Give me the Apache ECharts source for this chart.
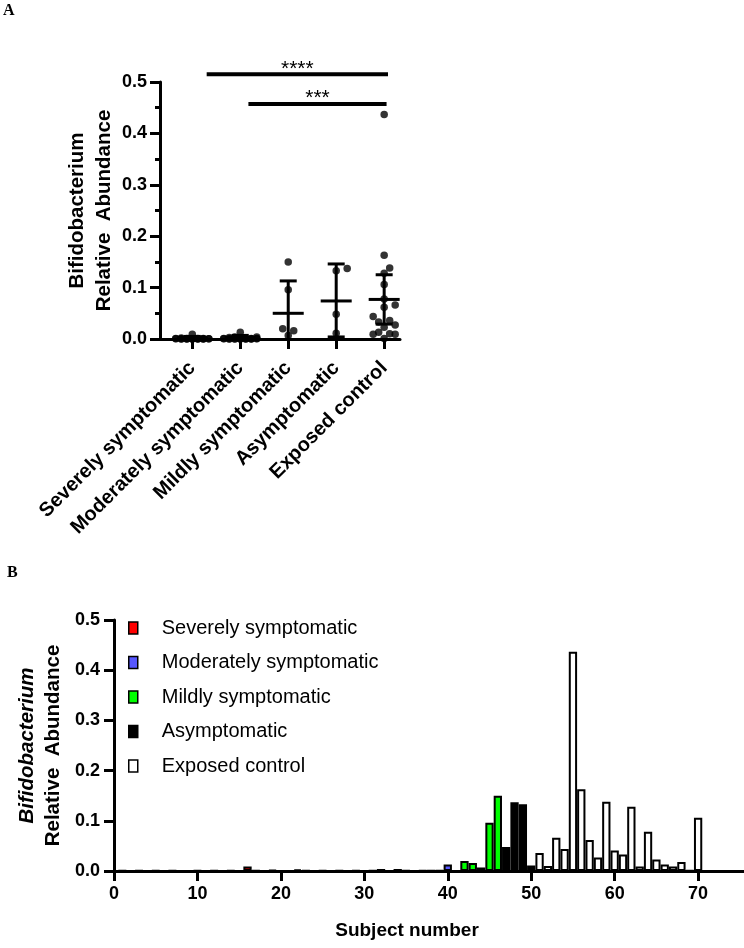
<!DOCTYPE html>
<html><head><meta charset="utf-8">
<script src="https://cdn.jsdelivr.net/npm/echarts@6/dist/echarts.min.js"></script>
<style>html,body{margin:0;padding:0;background:#fff}#c{width:744px;height:948px}</style>
</head><body><div id="c"></div>
<script>
// ---------- data ----------
const categories = ['Severely symptomatic', 'Moderately symptomatic', 'Mildly symptomatic', 'Asymptomatic', 'Exposed control'];
const groupColors = ['#ff0000', '#5757ff', '#00ff00', '#000000', '#ffffff'];

const severeSubjects = [1,2,3,4,5,6,7,8,9,10,11,12,13,14,15,16,17,18,19,20];
const severeAbundance = [0.0005,0,0.0008,0.0003,0.001,0,0.0006,0.0004,0,0.0009,0.0003,0.0006,0,0.001,0.0004,0.009,0.0005,0,0.002,0.0003];

const moderateSubjects = [21,22,23,24,25,26,27,28,29,30,31,32,33,34,35,36,37,38,39,40,41];
const moderateAbundance = [0.0004,0.003,0.0006,0,0.001,0.0003,0.0007,0,0.0009,0.0004,0.0006,0.004,0.0002,0.004,0.001,0,0.0008,0.0005,0.001,0.013,0];

const mildSubjects = [42,43,44,45,46];
const mildAbundance = [0.020,0.016,0.007,0.096,0.150];

const asymSubjects = [47,48,49,50];
const asymAbundance = [0.048,0.137,0.133,0.011];

const controlSubjects = [51,52,53,54,55,56,57,58,59,60,61,62,63,64,65,66,67,68,69,70];
const controlAbundance = [0.036,0.010,0.066,0.044,0.437,0.163,0.062,0.027,0.138,0.041,0.033,0.128,0.009,0.078,0.023,0.013,0.009,0.018,0.001,0.106];

// mean line and error-bar ends as drawn in panel A
const groupCenter = [0.002, 0.003, 0.050, 0.074, 0.077];
const groupUpper  = [0.005, 0.007, 0.113, 0.146, 0.125];
const groupLower  = [0.000, 0.000, -0.013, 0.004, 0.029];

// significance comparisons (panel A)
const compLabels = ['****', '***'];
const compFrom   = [0.3, 1.17];
const compTo     = [4.08, 4.05];
const compLevel  = [0.515, 0.457];

const abundanceTicks = [0, 0.1, 0.2, 0.3, 0.4, 0.5];
const subjectTicks = [0, 10, 20, 30, 40, 50, 60, 70];
const groupTicks = [0, 1, 2, 3, 4];

const groupSubjects = [severeSubjects, moderateSubjects, mildSubjects, asymSubjects, controlSubjects];
const groupValues = [severeAbundance, moderateAbundance, mildAbundance, asymAbundance, controlAbundance];

// ---------- chart ----------
const FONT = '"Liberation Sans", Arial, sans-serif';
const chart = echarts.init(document.getElementById('c'), null, {renderer: 'canvas'});

const axisLineStyle = {color: '#000', width: 3};

const option = {
  animation: false,
  backgroundColor: '#fff',
  textStyle: {fontFamily: FONT, color: '#000'},
  graphic: [
    {type: 'text', left: 3, top: 3, style: {text: 'A', font: 'bold 16px "Liberation Serif", serif', fill: '#000'}},
    {type: 'text', left: 7, top: 565, style: {text: 'B', font: 'bold 16px "Liberation Serif", serif', fill: '#000'}}
  ],
  legend: {
    data: categories,
    orient: 'vertical',
    left: 128, top: 618,
    padding: 0,
    itemWidth: 9, itemHeight: 12, itemGap: 14.5,
    icon: 'rect',
    selectedMode: false,
    itemStyle: {borderColor: '#000', borderWidth: 1.5},
    textStyle: {fontFamily: FONT, fontSize: 20, color: '#000', padding: [0, 0, 0, 19]}
  },
  grid: [
    {left: 160, top: 82, width: 240, height: 257},
    {left: 114, top: 620, right: 0, height: 251}
  ],
  xAxis: [
    {
      gridIndex: 0, type: 'value', min: -0.673, max: 4.33,
      axisLine: {show: true, onZero: false, lineStyle: axisLineStyle},
      axisTick: {show: true, customValues: groupTicks, length: 10, lineStyle: {color: '#000', width: 3}},
      axisLabel: {customValues: groupTicks, formatter: v => categories[Math.round(v)], rotate: 45, margin: 26,
        fontFamily: FONT, fontSize: 20, fontWeight: 'bold', color: '#000'},
      splitLine: {show: false}
    },
    {
      gridIndex: 1, type: 'value', min: 0, max: 75.5,
      axisLine: {show: true, onZero: false, lineStyle: axisLineStyle},
      axisTick: {show: true, customValues: subjectTicks, length: 10, lineStyle: {color: '#000', width: 3}},
      axisLabel: {customValues: subjectTicks, margin: 14, fontFamily: FONT, fontSize: 18, fontWeight: 'bold', color: '#000'},
      splitLine: {show: false},
      name: 'Subject number', nameLocation: 'middle', nameGap: 50,
      nameTextStyle: {fontFamily: FONT, fontSize: 19, fontWeight: 'bold', color: '#000', padding: [0, 44, 0, 0]}
    }
  ],
  yAxis: [
    {
      gridIndex: 0, type: 'value', min: 0, max: 0.5, interval: 0.1,
      axisLine: {show: true, onZero: false, lineStyle: axisLineStyle},
      axisTick: {show: true, length: 10, lineStyle: {color: '#000', width: 3}},
      minorTick: {show: true, splitNumber: 2, length: 5, lineStyle: {color: '#000', width: 3}},
      axisLabel: {customValues: abundanceTicks, formatter: v => v.toFixed(1), margin: 13, fontFamily: FONT, fontSize: 18, fontWeight: 'bold', color: '#000'},
      splitLine: {show: false}, minorSplitLine: {show: false},
      name: '{b|Bifidobacterium}\n{b|Relative  Abundance}', nameLocation: 'middle', nameGap: 42, nameRotate: 90,
      nameTextStyle: {rich: {b: {fontFamily: FONT, fontSize: 20.5, fontWeight: 'bold', color: '#000', lineHeight: 27}}}
    },
    {
      gridIndex: 1, type: 'value', min: 0, max: 0.5, interval: 0.1,
      axisLine: {show: true, onZero: false, lineStyle: axisLineStyle},
      axisTick: {show: true, length: 10, lineStyle: {color: '#000', width: 3}},
      axisLabel: {formatter: v => v.toFixed(1), margin: 14, fontFamily: FONT, fontSize: 18, fontWeight: 'bold', color: '#000'},
      splitLine: {show: false},
      name: '{i|Bifidobacterium}\n{b|Relative  Abundance}', nameLocation: 'middle', nameGap: 41, nameRotate: 90,
      nameTextStyle: {rich: {
        i: {fontFamily: FONT, fontSize: 20.5, fontWeight: 'bold', fontStyle: 'italic', color: '#000', lineHeight: 26},
        b: {fontFamily: FONT, fontSize: 20.5, fontWeight: 'bold', color: '#000', lineHeight: 26}
      }}
    }
  ],
  series: []
};

// panel A: mean + error bars
option.series.push({
  type: 'custom', name: 'summary', xAxisIndex: 0, yAxisIndex: 0, z: 3,
  data: categories.map((c, i) => [i, groupCenter[i], groupUpper[i], groupLower[i]]),
  renderItem: function (params, api) {
    const xc = api.value(0), m = api.value(1), up = api.value(2), lo = api.value(3);
    const pm = api.coord([xc, m]);
    const pu = api.coord([xc, up]);
    const pl = api.coord([xc, Math.max(lo, 0)]);
    const half = 15.5, cap = 8.5;
    const st = {stroke: '#000', lineWidth: 3};
    const ch = [
      {type: 'line', shape: {x1: pm[0] - half, y1: pm[1], x2: pm[0] + half, y2: pm[1]}, style: st},
      {type: 'line', shape: {x1: pu[0], y1: pu[1], x2: pl[0], y2: pl[1]}, style: st},
      {type: 'line', shape: {x1: pu[0] - cap, y1: pu[1], x2: pu[0] + cap, y2: pu[1]}, style: st}
    ];
    if (lo > 0) ch.push({type: 'line', shape: {x1: pl[0] - cap, y1: pl[1], x2: pl[0] + cap, y2: pl[1]}, style: st});
    return {type: 'group', children: ch};
  }
});

// panel A: significance bars
option.series.push({
  type: 'custom', name: 'significance', xAxisIndex: 0, yAxisIndex: 0, clip: false, z: 3,
  data: compLabels.map((l, i) => [compFrom[i], compTo[i], compLevel[i], i]),
  renderItem: function (params, api) {
    const a = api.coord([api.value(0), api.value(2)]);
    const b = api.coord([api.value(1), api.value(2)]);
    const idx = api.value(3);
    return {type: 'group', children: [
      {type: 'line', shape: {x1: a[0], y1: a[1], x2: b[0], y2: b[1]}, style: {stroke: '#000', lineWidth: 4}},
      {type: 'text', x: (a[0] + b[0]) / 2, y: a[1] + 5,
        style: {text: compLabels[idx], fontFamily: FONT, fontSize: 21, fill: '#000', align: 'center', verticalAlign: 'bottom'}}
    ]};
  }
});

// panel A: individual points (positions filled in after layout)
option.series.push({
  id: 'points', type: 'scatter', name: 'points', xAxisIndex: 0, yAxisIndex: 0, z: 4,
  symbol: 'circle', symbolSize: 7.5, itemStyle: {color: '#000'}, data: []
});

// panel B: bars
categories.forEach((c, g) => {
  option.series.push({
    type: 'bar', name: c, xAxisIndex: 1, yAxisIndex: 1,
    barWidth: 8.3, barGap: '-100%',
    itemStyle: {color: groupColors[g], borderColor: '#000', borderWidth: 2},
    data: groupSubjects[g].map((s, i) => [s, groupValues[g][i]])
  });
});

chart.setOption(option);

// beeswarm-style horizontal spreading of the points in panel A
function swarm(g, vals) {
  const x0 = chart.convertToPixel({gridIndex: 0}, [g, 0])[0];
  const unit = chart.convertToPixel({gridIndex: 0}, [g + 1, 0])[0] - x0;
  const order = vals.map((v, i) => i).sort((a, b) => vals[a] - vals[b]);
  const placed = [], out = [];
  const offs = [0, 1, -1, 2, -2, 3, -3];
  const step = 5.5, dmin = 7;
  order.forEach(i => {
    const py = chart.convertToPixel({gridIndex: 0}, [g, vals[i]])[1];
    let best = x0, bestD = -1;
    for (const k of offs) {
      const px = x0 + k * step;
      let d = Infinity;
      placed.forEach(p => { d = Math.min(d, Math.hypot(p[0] - px, p[1] - py)); });
      if (d >= dmin) { best = px; bestD = d; break; }
      if (d > bestD) { bestD = d; best = px; }
    }
    placed.push([best, py]);
    out.push([g + (best - x0) / unit, vals[i]]);
  });
  return out;
}
let pts = [];
groupValues.forEach((vals, g) => { pts = pts.concat(swarm(g, vals)); });
chart.setOption({series: [{id: 'points', data: pts}]});
</script>
</body></html>
